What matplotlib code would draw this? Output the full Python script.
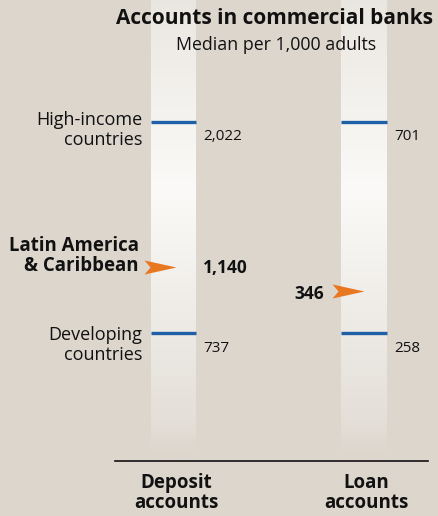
import numpy as np
import matplotlib
matplotlib.use("Agg")
import matplotlib.pyplot as plt
from matplotlib.path import Path

# ---- data ----
columns = ["Deposit\naccounts", "Loan\naccounts"]
high_income = [2022, 701]
developing = [737, 258]
latin_america = [1140, 346]
high_labels = ["2,022", "701"]
dev_labels = ["737", "258"]
lac_labels = ["1,140", "346"]

# ---- style ----
W, H = 438, 516
DPI = 100
BG = "#dcd6cd"
BLUE = "#1f5fa6"
ORANGE = "#e87722"
INK = "#111111"
FONT = "Open Sans"
plt.rcParams["font.family"] = [FONT, "DejaVu Sans"]

fig = plt.figure(figsize=(W / DPI, H / DPI), dpi=DPI, facecolor=BG)

bands = [(151, 196), (341, 387)]
y_high_px, y_dev_px = 122, 333

rows = np.linspace(0, 1, 256)
def band_rgba():
    py = rows * H
    light = np.interp(py, [0, 60, 190, 330, 420, 455, 516],
                      [0.45, 0.65, 1.0, 0.55, 0.25, 0.0, 0.0])
    white = np.array([251, 250, 248]) / 255
    base = np.array(matplotlib.colors.to_rgb(BG))
    col = base[None, :] + (white - base)[None, :] * light[:, None]
    return col[:, None, :]

arrow_path = Path([(-1, 0.44), (1, 0), (-1, -0.44), (-0.62, 0), (-1, 0.44)],
                  [Path.MOVETO, Path.LINETO, Path.LINETO, Path.LINETO, Path.CLOSEPOLY])

px2pt = 72 / DPI
VAL_FS = 11
LAB_FS = 13

for i, (x0, x1) in enumerate(bands):
    ax = fig.add_axes([x0 / W, 0, (x1 - x0) / W, 1], zorder=1)
    ax.axis("off")
    vh, vd = high_income[i], developing[i]
    s = (vh - vd) / (y_dev_px - y_high_px)
    top = vh + y_high_px * s
    bottom = vd - (H - y_dev_px) * s
    ax.set_xlim(0, 1)
    ax.set_ylim(bottom, top)
    ax.imshow(band_rgba(), extent=(0, 1, bottom, top), aspect="auto", zorder=0,
              origin="upper")
    ax.hlines([vh, vd], 0, 1, color=BLUE, lw=2.4, zorder=2, clip_on=False)
    for v, lab in [(vh, high_labels[i]), (vd, dev_labels[i])]:
        ax.annotate(lab, xy=(1, v), xytext=(7, -15), textcoords="offset pixels",
                    ha="left", va="center", fontsize=VAL_FS, color=INK,
                    annotation_clip=False)
    v = latin_america[i]
    ax_w_px = x1 - x0
    arrow_center_px = [160, 348][i]
    ax.plot([(arrow_center_px - x0) / ax_w_px], [v], marker=arrow_path,
            markersize=32 * px2pt, color=ORANGE, mec="none", clip_on=False, zorder=3)
    if i == 0:
        ax.annotate(lac_labels[i], xy=(1, v), xytext=(7, -1), textcoords="offset pixels",
                    ha="left", va="center", fontsize=12.5, fontweight="bold",
                    color=INK, annotation_clip=False)
    else:
        ax.annotate(lac_labels[i], xy=((333 - x0) / ax_w_px, v), xytext=(-9, -3),
                    textcoords="offset pixels",
                    ha="right", va="center", fontsize=12.5, fontweight="bold",
                    color=INK, annotation_clip=False)

bg = fig.add_axes([0, 0, 1, 1], zorder=2)
bg.set_xlim(0, W)
bg.set_ylim(H, 0)
bg.axis("off")
bg.patch.set_alpha(0)

bg.text(142, 130, "High-income\ncountries", ha="right", va="center",
        fontsize=LAB_FS, linespacing=1.08, color=INK)
bg.text(139, 256, "Latin America\n& Caribbean", ha="right", va="center",
        fontsize=13.4, fontweight="bold", linespacing=1.02, color=INK)
bg.text(142, 345, "Developing\ncountries", ha="right", va="center",
        fontsize=LAB_FS, linespacing=1.08, color=INK)

bg.text(274, 19, "Accounts in commercial banks", ha="center", va="center",
        fontsize=15, fontweight="bold", color=INK)
bg.text(276, 45, "Median per 1,000 adults", ha="center", va="center",
        fontsize=12.8, color=INK)

bg.plot([115, 428], [460.5, 460.5], color=INK, lw=1.2)
for cx, lab in zip([176, 366], columns):
    bg.text(cx, 493, lab, ha="center", va="center", fontsize=13.5,
            fontweight="bold", linespacing=1.0, color=INK)

fig.savefig("out.png", dpi=DPI, facecolor=BG)
